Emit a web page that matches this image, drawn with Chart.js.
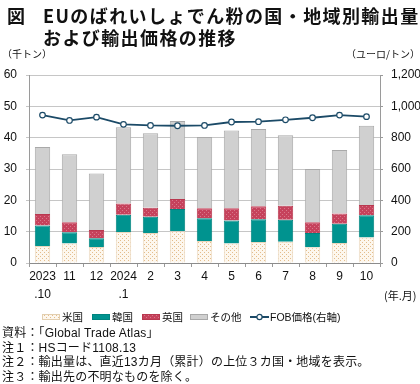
<!DOCTYPE html>
<html>
<head>
<meta charset="utf-8">
<script src="https://cdn.jsdelivr.net/npm/chart.js@4"></script>
<style>
  body { margin: 0; background: #fff; font-family: 'Liberation Sans', 'Noto Sans CJK JP', sans-serif; color: #111; }
  #wrap { position: relative; width: 420px; height: 384px; overflow: hidden; }
  #chart { position: absolute; left: 0; top: 0; }
  .abs { position: absolute; white-space: nowrap; }
  .title { font-family: 'Noto Sans CJK JP', sans-serif; font-weight: bold; font-size: 18px; line-height: 22px; letter-spacing: 1.4px; }
  .unit { font-family: 'Noto Sans CJK JP', sans-serif; font-size: 10px; line-height: 12px; }
  .legend-item { position: absolute; top: 310px; font-size: 10.5px; line-height: 14px; display: flex; align-items: center; white-space: nowrap; }
  .legend-item canvas { margin-right: 1px; }
  .note { font-size: 12px; line-height: 14.5px; left: 2px; letter-spacing: 0.2px; }
</style>
</head>
<body>
<div id="wrap">
  <canvas id="chart" width="420" height="384"></canvas>
  <div class="abs title" style="left:7px; top:4px;">図</div>
  <div class="abs title" style="left:43px; top:4px;">EUのばれいしょでん粉の国・地域別輸出量</div>
  <div class="abs title" style="left:43px; top:26px;">および輸出価格の推移</div>
  <div class="abs unit" style="left:2px; top:48px;">（千トン）</div>
  <div class="abs unit" style="right:0px; top:48px;">（ユーロ/トン）</div>
  <div class="abs unit" style="left:384px; top:289px; font-size:11px;">(年.月)</div>
  <div id="legend"></div>
  <div class="abs note" style="top:326px;">資料：「Global Trade Atlas」</div>
  <div class="abs note" style="top:340.5px;">注１：HSコード1108.13</div>
  <div class="abs note" style="top:355px;">注２：輸出量は、直近13カ月（累計）の上位３カ国・地域を表示。</div>
  <div class="abs note" style="top:369.5px;">注３：輸出先の不明なものを除く。</div>
</div>
<script>
const months = [['2023', '.10'], '11', '12', ['2024', '.1'], '2', '3', '4', '5', '6', '7', '8', '9', '10'];

// 千トン
const usValues    = [5.4, 6.2, 5.1, 9.9, 9.6, 10.1, 7.0, 6.2, 6.7, 6.8, 5.0, 6.4, 8.1];
const koreaValues = [6.6, 3.6, 2.8, 5.5, 5.2, 7.1, 7.3, 7.4, 7.3, 7.0, 4.6, 6.1, 7.1];
const ukValues    = [3.6, 3.2, 2.6, 3.6, 2.8, 3.2, 3.2, 3.9, 4.1, 4.5, 3.4, 3.3, 3.3];
const otherValues = [21.4, 21.7, 18.1, 24.3, 23.8, 24.9, 22.7, 24.8, 24.7, 22.5, 17.0, 20.3, 25.3];

// ユーロ/トン
const fobPrice = [944, 910, 931, 885, 878, 876, 878, 900, 902, 914, 927, 944, 934];

const seriesNames = ['米国', '韓国', '英国', 'その他', 'FOB価格(右軸)'];

const leftTicks = [0, 10, 20, 30, 40, 50, 60];
const rightTicks = [0, 200, 400, 600, 800, 1000, 1200];

const lineColor = '#1b4a67';

function dotPattern(ctx, bg, dot) {
    const c = document.createElement('canvas');
    c.width = 4; c.height = 4;
    const g = c.getContext('2d');
    g.fillStyle = bg;
    g.fillRect(0, 0, 4, 4);
    g.fillStyle = dot;
    g.fillRect(0, 0, 1, 1);
    g.fillRect(2, 2, 1, 1);
    return ctx.createPattern(c, 'repeat');
}

const ctx = document.getElementById('chart').getContext('2d');
const usFill = dotPattern(ctx, '#fdf7ee', '#e3bd8c');
const ukFill = dotPattern(ctx, '#c6425c', '#d9788b');

const barStyle = { barPercentage: 0.57, categoryPercentage: 1.0, borderWidth: 1, yAxisID: 'y', order: 2 };

new Chart(ctx, {
    type: 'bar',
    data: {
        labels: months,
        datasets: [
            { ...barStyle, label: seriesNames[0], data: usValues, backgroundColor: usFill, borderColor: '#ead7bd' },
            { ...barStyle, label: seriesNames[1], data: koreaValues, backgroundColor: '#00938f', borderColor: '#00847f' },
            { ...barStyle, label: seriesNames[2], data: ukValues, backgroundColor: ukFill, borderColor: '#b8384f' },
            { ...barStyle, label: seriesNames[3], data: otherValues, backgroundColor: '#d0d0d0', borderColor: '#a9a9a9' },
            {
                type: 'line',
                label: seriesNames[4],
                data: fobPrice,
                yAxisID: 'y1',
                order: 1,
                borderColor: lineColor,
                borderWidth: 1.8,
                backgroundColor: '#fff',
                pointBackgroundColor: '#fff',
                pointBorderColor: lineColor,
                pointBorderWidth: 1.2,
                pointRadius: 2.8,
                tension: 0
            }
        ]
    },
    options: {
        responsive: false,
        animation: false,
        layout: { padding: { top: 75, left: 0, right: 0, bottom: 0 } },
        plugins: { legend: { display: false }, tooltip: { enabled: false } },
        scales: {
            x: {
                stacked: true,
                afterFit: s => { s.height = 121; },
                grid: { drawOnChartArea: false, drawTicks: true, tickLength: 4, color: '#9a9a9a', offset: true },
                border: { color: '#8c8c8c', width: 1 },
                ticks: {
                    padding: 1,
                    maxRotation: 0,
                    autoSkip: false,
                    color: '#111',
                    font: { family: "'Liberation Sans', sans-serif", size: 12, lineHeight: 1.5 }
                }
            },
            y: {
                stacked: true,
                position: 'left',
                min: 0,
                max: 60,
                afterFit: s => { s.width = 29; },
                afterBuildTicks: s => { s.ticks = leftTicks.map(v => ({ value: v })); },
                grid: { color: '#c6c6c6', tickLength: 3 },
                border: { color: '#9a9a9a' },
                ticks: {
                    padding: 9,
                    color: '#111',
                    font: { family: "'Liberation Sans', sans-serif", size: 12 }
                }
            },
            y1: {
                position: 'right',
                min: 0,
                max: 1200,
                afterFit: s => { s.width = 40; },
                afterBuildTicks: s => { s.ticks = rightTicks.map(v => ({ value: v })); },
                grid: { drawOnChartArea: false, color: '#9a9a9a', tickLength: 3 },
                border: { color: '#9a9a9a' },
                ticks: {
                    padding: 8,
                    color: '#111',
                    font: { family: "'Liberation Sans', sans-serif", size: 12 },
                    callback: v => v.toLocaleString('en-US')
                }
            }
        }
    }
});

// legend built from the same series names and fills
const legend = document.getElementById('legend');
const swatchFills = [usFill, '#00938f', ukFill, '#d0d0d0'];
const swatchEdges = ['#e3cfb0', '#00847f', '#b8384f', '#a9a9a9'];
const legendLeft = [42, 92, 142, 190, 250];
seriesNames.forEach((name, i) => {
    const item = document.createElement('span');
    item.className = 'legend-item';
    item.style.left = legendLeft[i] + 'px';
    const sw = document.createElement('canvas');
    sw.width = 19; sw.height = 8;
    const g = sw.getContext('2d');
    if (i < 4) {
        g.fillStyle = swatchFills[i];
        g.fillRect(0, 1, 18, 6);
        g.strokeStyle = swatchEdges[i];
        g.strokeRect(0.5, 1.5, 17, 5);
    } else {
        g.strokeStyle = lineColor;
        g.lineWidth = 2;
        g.beginPath(); g.moveTo(0, 4); g.lineTo(19, 4); g.stroke();
        g.fillStyle = '#fff';
        g.lineWidth = 1.2;
        g.beginPath(); g.arc(9.5, 4, 2.6, 0, Math.PI * 2); g.fill(); g.stroke();
    }
    item.appendChild(sw);
    const t = document.createElement('span');
    t.textContent = name;
    item.appendChild(t);
    legend.appendChild(item);
});
</script>
</body>
</html>
